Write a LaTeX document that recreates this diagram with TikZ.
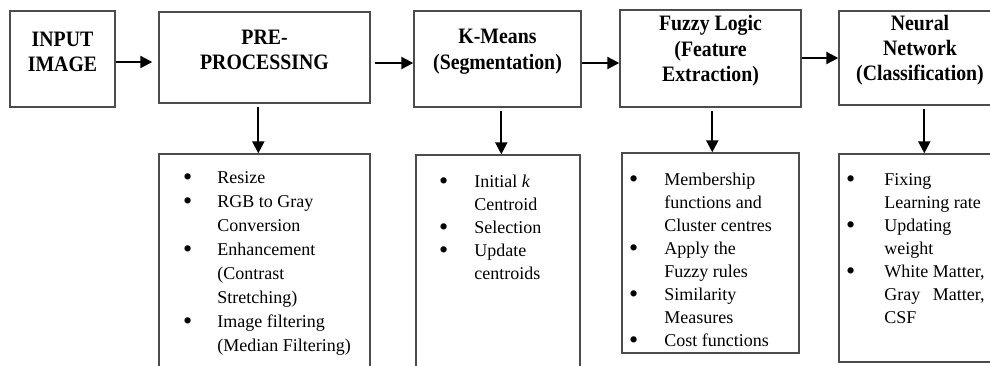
\documentclass[tikz,border=0pt]{standalone}
\usepackage{fontspec}
\usepackage{calc}
\usepackage{graphicx}
\setmainfont{Liberation Serif}
\newfontfamily\ttlfont[FakeStretch=0.9]{Liberation Serif}
\usetikzlibrary{fit,arrows.meta}
\newcommand\bl{\hspace{-0.6pt}\raisebox{-1pt}{\scalebox{1.45}{\textbullet}}}
\newcommand\bul[1]{\makebox[#1][l]{\bl}}
\begin{document}
\begin{tikzpicture}[x=0.5pt,y=-0.5pt,
  box/.style={draw=black!70, line width=0.7pt, inner sep=0pt},
  ttl/.style={box, align=center, font=\ttlfont\bfseries\fontsize{11}{12.6}\selectfont},
  arr/.style={draw=black, line width=1.1pt, -{Triangle[length=6pt,width=6pt]}},
  lst/.style={anchor=base west, inner sep=0pt}]
\useasboundingbox (0,0) rectangle (990,365);
\clip (0,0) rectangle (990,365);
% title boxes
\node[ttl, fit={(10,11)(115,107)}] (in) {INPUT\\IMAGE};
\node[ttl, fit={(159,12)(370,103)}] (pre) {PRE-\\PROCESSING};
\node[ttl, fit={(414,11)(581,107)}] (km) {K-Means\\(Segmentation)};
\node[ttl, fit={(620,10)(801,107)}] (fz) {Fuzzy Logic\\(Feature\\Extraction)};
\node[ttl, fit={(839,11)(1001,105)}] (nn) {Neural\\Network\\(Classification)};
% list boxes
\node[box, fit={(159,154)(370,380)}] (lpre) {};
\node[box, fit={(416,155)(580,380)}] (lkm) {};
\node[box, fit={(622,153)(799,353)}] (lfz) {};
\node[box, fit={(839,154)(1001,362)}] (lnn) {};
% list texts
\node[lst] (tpre) at (184,183) {\fontsize{9}{12}\selectfont
  \begin{tabular}[t]{@{}l@{}l@{}}
  \bul{16.5pt} & Resize\\
  \bl & RGB to Gray\\
   & Conversion\\
  \bl & Enhancement\\
   & (Contrast\\
   & Stretching)\\
  \bl & Image filtering\\
   & (Median Filtering)
  \end{tabular}};
\node[lst] (tkm) at (440,187) {\fontsize{9}{11.6}\selectfont
  \begin{tabular}[t]{@{}l@{}l@{}}
  \bul{17pt} & Initial \textit{k}\\
   & Centroid\\
  \bl & Selection\\
  \bl & Update\\
   & centroids
  \end{tabular}};
\node[lst] (tfz) at (630,185) {\fontsize{9}{11.5}\selectfont
  \begin{tabular}[t]{@{}l@{}l@{}}
  \bul{17pt} & Membership\\
   & functions and\\
   & Cluster centres\\
  \bl & Apply the\\
   & Fuzzy rules\\
  \bl & Similarity\\
   & Measures\\
  \bl & Cost functions
  \end{tabular}};
\node[lst] (tnn) at (847,185) {\fontsize{9}{11.5}\selectfont
  \begin{tabular}[t]{@{}l@{}l@{}}
  \bul{18.5pt} & Fixing\\
   & Learning rate\\
  \bl & Updating\\
   & weight\\
  \bl & White Matter,\\
   & \makebox[\widthof{White Matter,}][s]{Gray\hfill Matter,}\\
   & CSF
  \end{tabular}};
% horizontal arrows
\draw[arr, shorten >=3pt] ([yshift=-1.5pt]in.east) -- ([yshift=-1.5pt]in.east -| pre.west);
\draw[arr, shorten <=2pt] ([yshift=-2.75pt]pre.east) -- ([yshift=-2.75pt]pre.east -| km.west);
\draw[arr] ([yshift=-2pt]km.east) -- ([yshift=-2pt]km.east -| fz.west);
\draw[arr] ([yshift=0.25pt]fz.east) -- ([yshift=0.25pt]fz.east -| nn.west);
% vertical arrows
\coordinate (vpre) at ([xshift=50pt]lpre.north west);
\coordinate (vkm) at ([xshift=43pt]lkm.north west);
\coordinate (vfz) at ([xshift=45.5pt]lfz.north west);
\coordinate (vnn) at ([xshift=43pt]lnn.north west);
\draw[arr, shorten <=1.5pt] (vpre |- pre.south) -- (vpre);
\draw[arr, shorten <=1.5pt] (vkm |- km.south) -- (vkm);
\draw[arr, shorten <=1.5pt] (vfz |- fz.south) -- (vfz);
\draw[arr, shorten <=1.5pt] (vnn |- nn.south) -- (vnn);
\end{tikzpicture}
\end{document}
